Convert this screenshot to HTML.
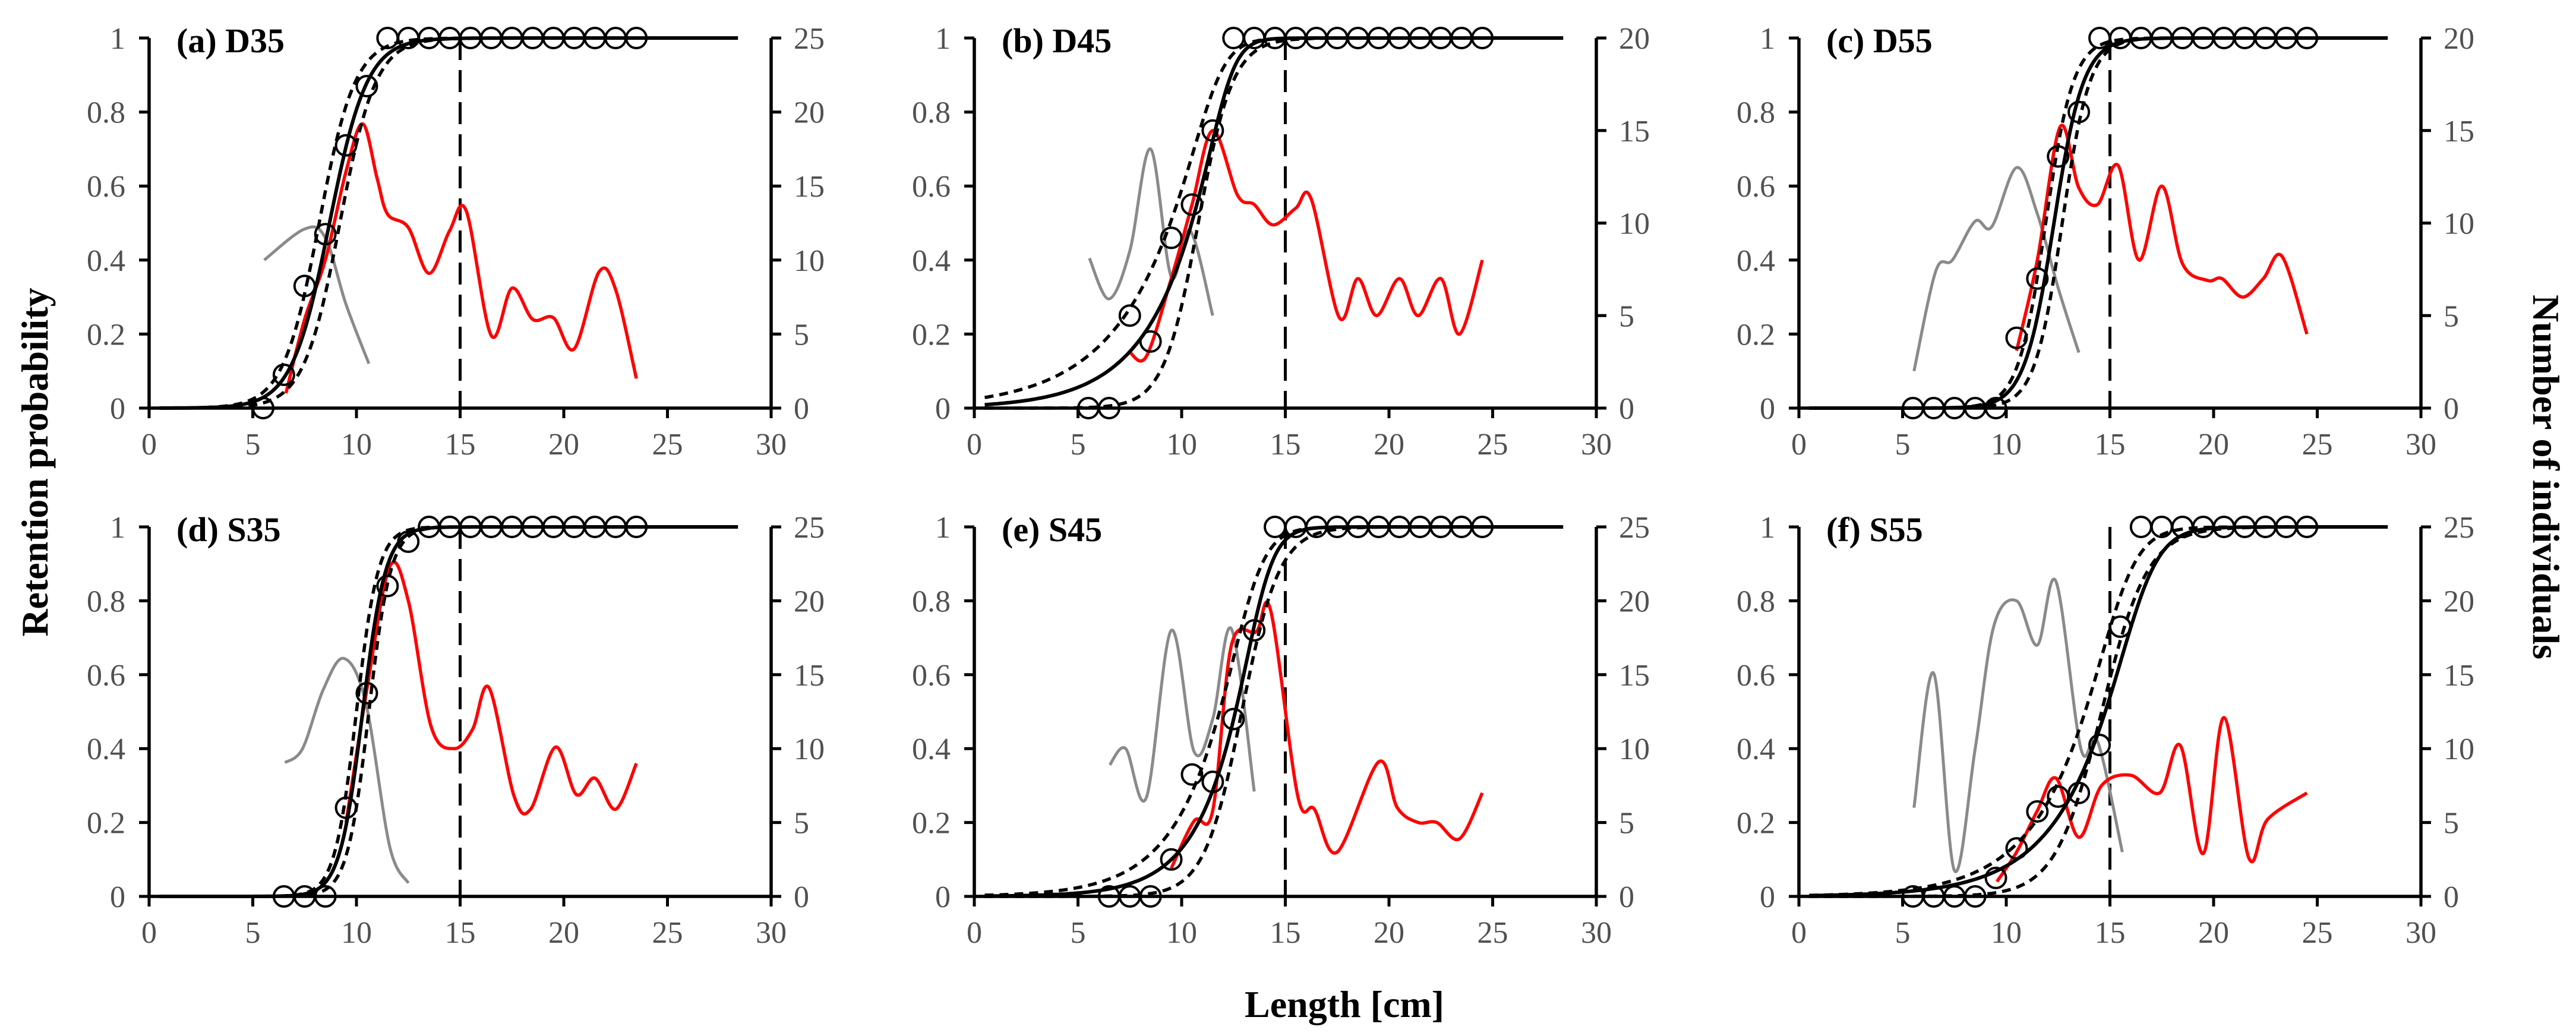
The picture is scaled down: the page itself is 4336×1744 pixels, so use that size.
<!DOCTYPE html>
<html><head><meta charset="utf-8">
<style>
html,body{margin:0;padding:0;background:#fff;}
svg{display:block;}
.tick{font-family:"Liberation Serif",serif;font-size:52px;fill:#505050;}
.ptitle{font-family:"Liberation Serif",serif;font-size:58px;font-weight:bold;fill:#000;}
.atitle{font-family:"Liberation Serif",serif;font-size:64px;font-weight:bold;fill:#000;}
</style></head>
<body>
<svg id="fig" width="4336" height="1744" viewBox="0 0 4336 1744" xmlns="http://www.w3.org/2000/svg">
<text class="atitle" transform="translate(80,778) rotate(-90)" text-anchor="middle">Retention probability</text>
<text class="atitle" transform="translate(4264,803) rotate(90)" text-anchor="middle">Number of individuals</text>
<text class="atitle" x="2263" y="1712" text-anchor="middle">Length [cm]</text>
</svg>
<script>
// ---- data ----
const panelTitles = ["(a) D35","(b) D45","(c) D55","(d) S35","(e) S45","(f) S55"];
const xTicks = [0,5,10,15,20,25,30];
const yTicks = [0,0.2,0.4,0.6,0.8,1];
const yTickLabels = ["0","0.2","0.4","0.6","0.8","1"];
const rightMax = [25,20,20,25,25,25];
const mls = [15,15,15,15,15,15];
// observed retention circles: start length + proportions at 1 cm steps
const circStart = [5.5,5.5,5.5,6.5,6.5,5.5];
const circA = [0,0.09,0.33,0.47,0.71,0.87,1,1,1,1,1,1,1,1,1,1,1,1,1];
const circB = [0,0,0.25,0.18,0.46,0.55,0.75,1,1,1,1,1,1,1,1,1,1,1,1,1];
const circC = [0,0,0,0,0,0.19,0.35,0.68,0.8,1,1,1,1,1,1,1,1,1,1,1];
const circD = [0,0,0,0.24,0.55,0.84,0.96,1,1,1,1,1,1,1,1,1,1,1];
const circE = [0,0,0,0.1,0.33,0.31,0.48,0.72,1,1,1,1,1,1,1,1,1,1,1];
const circF = [0,0,0,0,0.05,0.13,0.23,0.27,0.28,0.41,0.73,1,1,1,1,1,1,1,1,1];
// selection curve params [L50-ish, slope, asymmetry]
const fitSolid = [[8.7,1.1,1],[12.2,2.0,0.2],[12.3,1.4,1],[10.3,1.8,1],[13.84,1.77,0.3],[16.5,1.28,0.3]];
const fitLow = [[8.2,1.15,1],[11.6,1.6,0.2],[11.9,1.5,1],[10.0,1.9,1],[13.3,1.5,0.3],[15.5,1.3,0.3]];
const fitHigh = [[9.2,1.15,1],[10.8,1.2,1],[12.7,1.5,1],[10.6,1.9,1],[12.9,1.1,1],[14.6,0.9,1]];
// codend catch (red) lengths and counts
const redXA = [6.6,7.5,8.5,9.5,10.3,11,11.5,12.5,13.5,14.5,15.3,16.5,17.5,18.5,19.5,20.5,21.7,22.5,23.5];
const redYA = [1,6,10,16,19.2,15.5,13.1,12.2,9.1,12,13.3,4.9,8.1,6,6.1,4,9.2,8,2];
const redXB = [7.5,8.3,9.5,10.5,11.5,12.7,13.5,14.4,15.5,16.25,17.6,18.5,19.4,20.5,21.4,22.5,23.4,24.5];
const redYB = [3,2.8,7,11,15,11.5,11,9.9,10.8,11.3,4.9,7,5,7,5,7,4,8];
const redXC = [10.5,11.5,12.6,13.5,14.4,15.4,16.4,17.5,18.5,19.7,20.4,21.4,22.4,23.3,24.5];
const redYC = [3.1,8,15.2,11.9,11,13.1,8,12,7.8,6.9,7,6,7,8.2,4];
const redXD = [9.5,10.5,11.6,12.5,13.6,14.7,15.6,16.4,17.6,18.4,19.6,20.6,21.5,22.5,23.5];
const redYD = [5,14,22.3,20,11.5,10,11.3,14.1,6.8,5.9,10.1,6.9,8,5.9,9];
const redXE = [9.5,10.6,11.5,12.4,13.6,14.3,15.6,16.4,17.5,19.5,20.4,21.4,22.3,23.4,24.5];
const redYE = [1.9,5.1,5.8,17,17.9,19.3,6.8,5.9,3,9.1,6,5,5,3.9,7];
const redXF = [9.55,10.5,11.5,12.4,13.5,14.6,16,17.4,18.4,19.5,20.5,21.7,22.6,24.5];
const redYF = [1,3,5.8,8,4,7.5,8.2,7,10.2,2.9,12.1,2.6,5.2,7];
// cover catch (grey) lengths and counts
const grayXA = [5.55,7.5,8.5,9.5,10.6];
const grayYA = [10,12.1,11.5,7,3];
const grayXB = [5.55,6.5,7.5,8.5,9.5,10.4,11.5];
const grayYB = [8.1,5.9,8.5,14,7.1,9.6,5];
const grayXC = [5.55,6.6,7.4,8.5,9.3,10.5,11.5,12.5,13.5];
const grayYC = [2,7.4,8,10.1,9.8,13,10.5,6.5,3];
const grayXD = [6.55,7.4,8.4,9.4,10.45,11.6,12.5];
const grayYD = [9.05,10,14,16.1,13.1,3.4,0.9];
const grayXE = [6.53,7.3,8.3,9.5,10.6,11.5,12.4,13.5];
const grayYE = [8.9,10,6.7,18,9.8,12,18.1,7.1];
const grayXF = [5.55,6.5,7.5,8.5,9.4,10.5,11.5,12.4,13.6,14.4,15.6];
const grayYF = [6,15.1,1.75,10,18.3,20,17,21.3,10,10.5,3];

const circs=[circA,circB,circC,circD,circE,circF];
const redX=[redXA,redXB,redXC,redXD,redXE,redXF], redY=[redYA,redYB,redYC,redYD,redYE,redYF];
const grayX=[grayXA,grayXB,grayXC,grayXD,grayXE,grayXF], grayY=[grayYA,grayYB,grayYC,grayYD,grayYE,grayYF];

const NS="http://www.w3.org/2000/svg";
const svg=document.getElementById('fig');
const lefts=[251,1640,3028];
const PW=1047;
const tops=[[64,687],[887,1509]];
function mk(tag,attrs,parent){const e=document.createElementNS(NS,tag);for(const k in attrs)e.setAttribute(k,attrs[k]);parent.appendChild(e);return e;}
function richards(p,x){const L=1/(1+Math.exp(-p[1]*(x-p[0])));return Math.pow(L,p[2]);}
function spline(pts){
  let d="M"+pts[0][0].toFixed(1)+","+pts[0][1].toFixed(1);
  for(let i=0;i<pts.length-1;i++){
    const p0=pts[Math.max(0,i-1)],p1=pts[i],p2=pts[i+1],p3=pts[Math.min(pts.length-1,i+2)];
    const c1x=p1[0]+(p2[0]-p0[0])/6,c1y=p1[1]+(p2[1]-p0[1])/6;
    const c2x=p2[0]-(p3[0]-p1[0])/6,c2y=p2[1]-(p3[1]-p1[1])/6;
    d+=" C"+c1x.toFixed(1)+","+c1y.toFixed(1)+" "+c2x.toFixed(1)+","+c2y.toFixed(1)+" "+p2[0].toFixed(1)+","+p2[1].toFixed(1);
  }
  return d;
}
for(let i=0;i<6;i++){
  const col=i%3,row=Math.floor(i/3);
  const x0=lefts[col],y1=tops[row][0],y0=tops[row][1];
  const sx=v=>x0+v/30*PW;
  const sy=v=>y0-v*(y0-y1);
  const sr=v=>y0-v/rightMax[i]*(y0-y1);
  const g=mk('g',{},svg);
  
  
  const ax=mk('path',{d:`M${x0},${y1} V${y0} H${x0+PW} M${x0+PW},${y1} V${y0}`,stroke:'#000','stroke-width':5.5,fill:'none'},g);
  
  
  xTicks.forEach(t=>{
    mk('line',{x1:sx(t),x2:sx(t),y1:y0,y2:y0+17,stroke:'#000','stroke-width':5},g);
    const tx=mk('text',{x:sx(t),y:y0+78,'text-anchor':'middle',class:'tick'},g);
    tx.textContent=t;
    
    
  });
  yTicks.forEach((t,k)=>{
    mk('line',{x1:x0-17,x2:x0,y1:sy(t),y2:sy(t),stroke:'#000','stroke-width':5},g);
    const tx=mk('text',{x:x0-40,y:sy(t)+18,'text-anchor':'end',class:'tick'},g);
    tx.textContent=yTickLabels[k];
    
    
  });
  for(let v=0;v<=rightMax[i];v+=5){
    mk('line',{x1:x0+PW,x2:x0+PW+17,y1:sr(v),y2:sr(v),stroke:'#000','stroke-width':5},g);
    const tx=mk('text',{x:x0+PW+38,y:sr(v)+18,'text-anchor':'start',class:'tick'},g);
    tx.textContent=v;
    
    
  }
  const tt=mk('text',{x:x0+46,y:y1+24,class:'ptitle'},g);
  tt.textContent=panelTitles[i];
  
  
  const ml=mk('line',{x1:sx(mls[i]),x2:sx(mls[i]),y1:y1,y2:y0,stroke:'#000','stroke-width':5,'stroke-dasharray':'37 17'},g);
  
  
  const gp=mk('path',{d:spline(grayX[i].map((x,k)=>[sx(x),sr(grayY[i][k])])),stroke:'#8a8a8a','stroke-width':5,fill:'none'},g);
  
  
  const rp=mk('path',{d:spline(redX[i].map((x,k)=>[sx(x),sr(redY[i][k])])),stroke:'#ff0000','stroke-width':5.5,fill:'none'},g);
  
  
  function curve(p,x2,dash,name){
    let pts=[];for(let x=0.5;x<=x2;x+=0.1)pts.push(sx(x).toFixed(1)+","+sy(richards(p,x)).toFixed(1));
    const pl=mk('polyline',{points:pts.join(" "),stroke:'#000','stroke-width':dash?5.5:6,fill:'none'},g);
    if(dash)pl.setAttribute('stroke-dasharray','15 10');
    
    
  }
  curve(fitLow[i],27,true,'ci-lower-curve');
  curve(fitHigh[i],27,true,'ci-upper-curve');
  curve(fitSolid[i],28.5,false,'selection-curve');
  circs[i].forEach((v,k)=>{
    const c=mk('ellipse',{cx:sx(circStart[i]+k),cy:sy(v),rx:17,ry:17,stroke:'#000','stroke-width':4,fill:'none'},g);
    
    
  });
}
</script>
</body></html>
